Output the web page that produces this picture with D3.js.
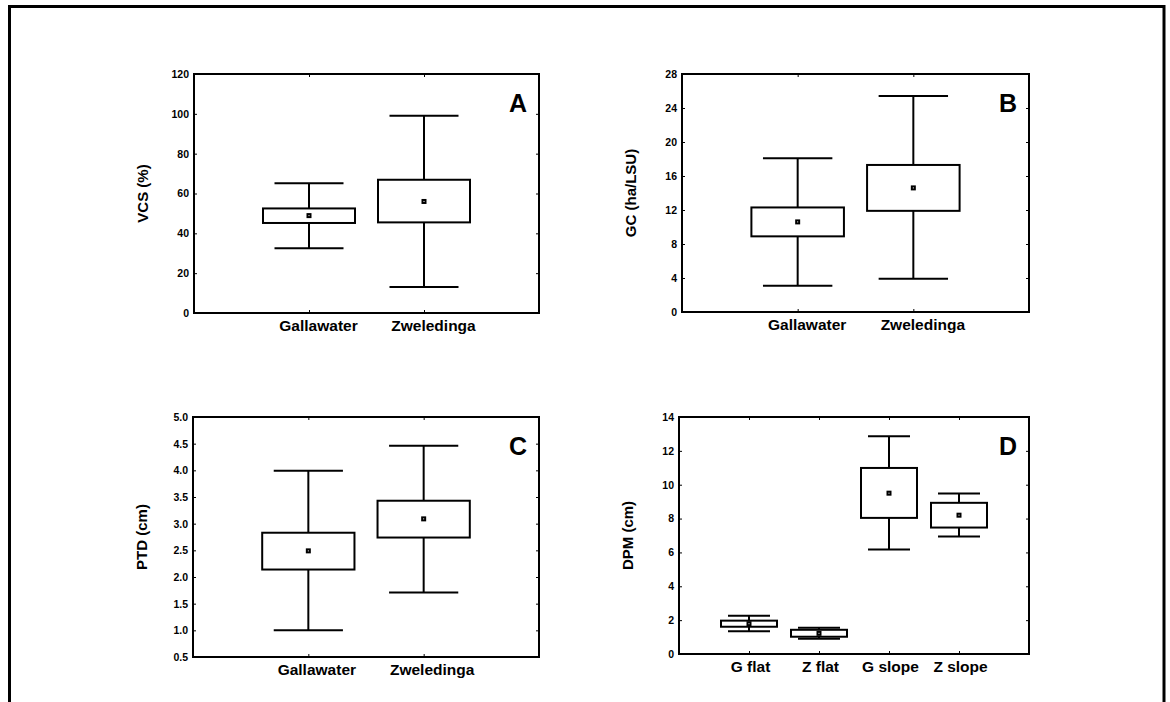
<!DOCTYPE html>
<html>
<head>
<meta charset="utf-8">
<script src="https://cdnjs.cloudflare.com/ajax/libs/d3/7.8.5/d3.min.js"></script>
<style>
  body { margin: 0; background: #fff; }
  svg { display: block; font-family: "Liberation Sans", Arial, sans-serif; }
  .tick text { font-size: 10.5px; font-weight: bold; fill: #000; }
  .tick line { stroke: #000; stroke-width: 1; }
</style>
</head>
<body>
<svg id="chart" width="1170" height="702"></svg>
<script>
// categories
var sitesAB = ["Gallawater", "Zweledinga"];
var sitesD = ["G flat", "Z flat", "G slope", "Z slope"];

// A - VCS (%)
var vcsMean = [48.9, 56.0];
var vcsBoxLo = [45.2, 45.5];
var vcsBoxHi = [52.5, 66.9];
var vcsWhiskLo = [32.5, 13.0];
var vcsWhiskHi = [65.1, 99.1];
var vcsTicks = [0, 20, 40, 60, 80, 100, 120];

// B - GC (ha/LSU)
var gcMean = [10.6, 14.6];
var gcBoxLo = [8.9, 11.9];
var gcBoxHi = [12.3, 17.3];
var gcWhiskLo = [3.1, 3.9];
var gcWhiskHi = [18.1, 25.4];
var gcTicks = [0, 4, 8, 12, 16, 20, 24, 28];

// C - PTD (cm)
var ptdMean = [2.49, 3.09];
var ptdBoxLo = [2.14, 2.74];
var ptdBoxHi = [2.83, 3.43];
var ptdWhiskLo = [1.0, 1.71];
var ptdWhiskHi = [3.99, 4.46];
var ptdTicks = [0.5, 1.0, 1.5, 2.0, 2.5, 3.0, 3.5, 4.0, 4.5, 5.0];

// D - DPM (cm)
var dpmMean = [1.79, 1.22, 9.50, 8.20];
var dpmBoxLo = [1.61, 1.02, 8.04, 7.47];
var dpmBoxHi = [1.97, 1.43, 10.99, 8.93];
var dpmWhiskLo = [1.34, 0.90, 6.18, 6.94];
var dpmWhiskHi = [2.26, 1.55, 12.86, 9.48];
var dpmTicks = [0, 2, 4, 6, 8, 10, 12, 14];

var svg = d3.select("#chart");

// outer frame
svg.append("rect")
	.attr("x", 9.5).attr("y", 6.5)
	.attr("width", 1154.5).attr("height", 720)
	.attr("fill", "none").attr("stroke", "#000").attr("stroke-width", 3);

var panels = [
	{ letter: "A", title: "VCS (%)", cats: sitesAB, mean: vcsMean, lo: vcsBoxLo, hi: vcsBoxHi, wlo: vcsWhiskLo, whi: vcsWhiskHi,
	  ticks: vcsTicks, fmt: d3.format("d"), box: [194, 74, 539, 313], labelShift: 9 },
	{ letter: "B", title: "GC (ha/LSU)", cats: sitesAB, mean: gcMean, lo: gcBoxLo, hi: gcBoxHi, wlo: gcWhiskLo, whi: gcWhiskHi,
	  ticks: gcTicks, fmt: d3.format("d"), box: [682, 74, 1029, 312], labelShift: 9 },
	{ letter: "C", title: "PTD (cm)", cats: sitesAB, mean: ptdMean, lo: ptdBoxLo, hi: ptdBoxHi, wlo: ptdWhiskLo, whi: ptdWhiskHi,
	  ticks: ptdTicks, fmt: d3.format(".1f"), box: [193, 417, 539, 657], labelShift: 8 },
	{ letter: "D", title: "DPM (cm)", cats: sitesD, mean: dpmMean, lo: dpmBoxLo, hi: dpmBoxHi, wlo: dpmWhiskLo, whi: dpmWhiskHi,
	  ticks: dpmTicks, fmt: d3.format("d"), box: [679, 417, 1029, 654], labelShift: 1 }
];

panels.forEach(function(p) {
	var x0 = p.box[0], y0 = p.box[1], x1 = p.box[2], y1 = p.box[3];
	var g = svg.append("g");

	var x = d3.scalePoint().domain(p.cats).range([x0, x1]).padding(1);
	var y = d3.scaleLinear().domain(d3.extent(p.ticks)).range([y1, y0]);
	var step = x.step();
	var boxW = step * 0.8;
	var capW = step * 0.6;

	// axes, ticks pointing inward
	g.append("g").attr("transform", "translate(" + x0 + ",0)")
		.call(d3.axisLeft(y).tickValues(p.ticks).tickFormat(p.fmt).tickSize(-3).tickPadding(5))
		.call(function(a) { a.select(".domain").remove(); });
	g.append("g").attr("transform", "translate(" + x1 + ",0)")
		.call(d3.axisRight(y).tickValues(p.ticks).tickFormat("").tickSize(-3))
		.call(function(a) { a.select(".domain").remove(); });
	var bx = g.append("g").attr("transform", "translate(0," + y1 + ")")
		.call(d3.axisBottom(x).tickSize(-3).tickPadding(7))
		.call(function(a) { a.select(".domain").remove(); });
	bx.selectAll("text").style("font-size", "15.5px").attr("dy", "0.71em").attr("dx", p.labelShift);
	g.append("g").attr("transform", "translate(0," + y0 + ")")
		.call(d3.axisTop(x).tickFormat("").tickSize(-3))
		.call(function(a) { a.select(".domain").remove(); });

	// plot frame
	g.append("rect")
		.attr("x", x0).attr("y", y0)
		.attr("width", x1 - x0).attr("height", y1 - y0)
		.attr("fill", "none").attr("stroke", "#000").attr("stroke-width", 2);

	// y title
	g.append("text")
		.attr("transform", "translate(" + (x0 - 46) + "," + ((y0 + y1) / 2) + ") rotate(-90)")
		.attr("text-anchor", "middle")
		.style("font-size", "15px").style("font-weight", "bold")
		.text(p.title);

	// panel letter
	g.append("text")
		.attr("x", x1 - 12).attr("y", y0 + 38)
		.attr("text-anchor", "end")
		.style("font-size", "25px").style("font-weight", "bold")
		.text(p.letter);

	var idx = d3.range(p.cats.length);
	var marks = g.append("g").attr("stroke", "#000").attr("stroke-width", 2).attr("fill", "none");

	// whisker stems
	marks.selectAll(".stem").data(idx).enter().append("line")
		.attr("x1", function(i) { return x(p.cats[i]); })
		.attr("x2", function(i) { return x(p.cats[i]); })
		.attr("y1", function(i) { return y(p.wlo[i]); })
		.attr("y2", function(i) { return y(p.whi[i]); });
	// caps
	["wlo", "whi"].forEach(function(k) {
		marks.selectAll(".cap-" + k).data(idx).enter().append("line")
			.attr("x1", function(i) { return x(p.cats[i]) - capW / 2; })
			.attr("x2", function(i) { return x(p.cats[i]) + capW / 2; })
			.attr("y1", function(i) { return y(p[k][i]); })
			.attr("y2", function(i) { return y(p[k][i]); });
	});
	// boxes
	marks.selectAll(".box").data(idx).enter().append("rect")
		.attr("fill", "#fff")
		.attr("x", function(i) { return x(p.cats[i]) - boxW / 2; })
		.attr("width", boxW)
		.attr("y", function(i) { return y(p.hi[i]); })
		.attr("height", function(i) { return y(p.lo[i]) - y(p.hi[i]); });
	// mean markers
	marks.selectAll(".mean").data(idx).enter().append("rect")
		.attr("fill", "#fff").attr("stroke-width", 2)
		.attr("x", function(i) { return x(p.cats[i]) - 1.5; })
		.attr("y", function(i) { return y(p.mean[i]) - 1.5; })
		.attr("width", 3).attr("height", 3);
});
</script>
</body>
</html>
